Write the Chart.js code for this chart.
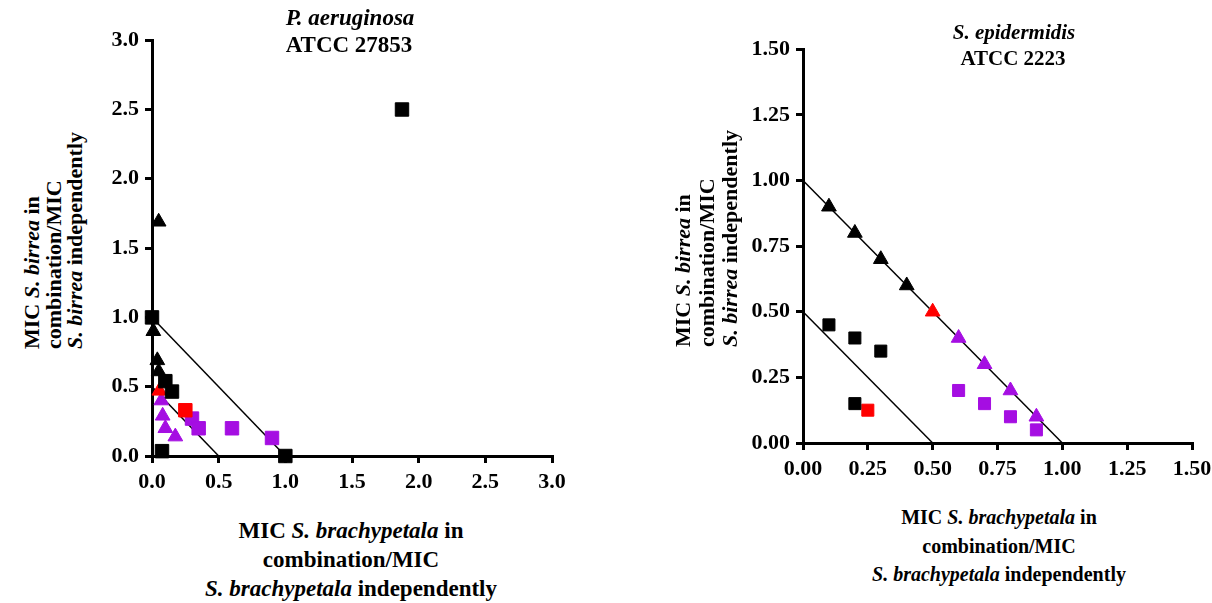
<!DOCTYPE html>
<html>
<head>
<meta charset="utf-8">
<script src="https://cdn.jsdelivr.net/npm/chart.js@4.4.1/dist/chart.umd.min.js"></script>
<style>
  body { margin: 0; background: #fff; }
  #page { position: relative; width: 1212px; height: 603px; overflow: hidden;
          font-family: "Liberation Serif", "Times New Roman", serif; font-weight: bold; color: #000; }
  canvas { position: absolute; }
  .lbl { position: absolute; text-align: center; white-space: nowrap; transform: translate(-50%, -50%); }
  .rot { position: absolute; text-align: left; white-space: nowrap; transform-origin: 0 0; transform: rotate(-90deg); }
</style>
</head>
<body>
<div id="page">
  <canvas id="paChart" width="482" height="475" style="left:90px;top:21px"></canvas>
  <canvas id="seChart" width="492" height="453" style="left:730px;top:30px"></canvas>

  <div class="lbl" style="left:350px;top:18px;font-size:23px"><i>P. aeruginosa</i></div>
  <div class="lbl" style="left:349px;top:45px;font-size:23px">ATCC 27853</div>
  <div class="lbl" style="left:351px;top:559px;font-size:23px;line-height:29px">MIC <i>S. brachypetala</i> in<br>combination/MIC<br><i>S. brachypetala</i> independently</div>
  <div class="rot" style="left:21px;top:349px;font-size:22px;line-height:21.5px">MIC <i>S. birrea</i> in<br>combination/MIC<br><i>S. birrea</i> independently</div>

  <div class="lbl" style="left:1014px;top:32px;font-size:21px"><i>S. epidermidis</i></div>
  <div class="lbl" style="left:1013px;top:58px;font-size:21px">ATCC 2223</div>
  <div class="lbl" style="left:999px;top:546px;font-size:20px;line-height:28.5px">MIC <i>S. brachypetala</i> in<br>combination/MIC<br><i>S. brachypetala</i> independently</div>
  <div class="rot" style="left:671px;top:347px;font-size:22px;line-height:23.5px">MIC <i>S. birrea</i> in<br>combination/MIC<br><i>S. birrea</i> independently</div>
</div>
<script>
// P. aeruginosa ATCC 27853
const paBlackSqX = [0.0, 0.1, 0.15, 0.075, 1.0, 1.875];
const paBlackSqY = [1.0, 0.54, 0.465, 0.035, 0.0, 2.5];
const paBlackTriX = [0.05, 0.01, 0.04, 0.05];
const paBlackTriY = [1.69, 0.9, 0.69, 0.61];
const paRedTriX = [0.055];
const paRedTriY = [0.47];
const paRedSqX = [0.25];
const paRedSqY = [0.33];
const paPurpleTriX = [0.07, 0.08, 0.1, 0.175];
const paPurpleTriY = [0.40, 0.29, 0.2, 0.14];
const paPurpleSqX = [0.3, 0.35, 0.6, 0.9];
const paPurpleSqY = [0.27, 0.2, 0.2, 0.13];
const paTicks = [0, 0.5, 1.0, 1.5, 2.0, 2.5, 3.0];

// S. epidermidis ATCC 2223
const seBlackTriX = [0.1, 0.2, 0.3, 0.4];
const seBlackTriY = [0.9, 0.8, 0.7, 0.6];
const seRedTriX = [0.5];
const seRedTriY = [0.5];
const sePurpleTriX = [0.6, 0.7, 0.8, 0.9];
const sePurpleTriY = [0.4, 0.3, 0.2, 0.1];
const seBlackSqX = [0.1, 0.2, 0.3, 0.2];
const seBlackSqY = [0.45, 0.4, 0.35, 0.15];
const seRedSqX = [0.25];
const seRedSqY = [0.125];
const sePurpleSqX = [0.6, 0.7, 0.8, 0.9];
const sePurpleSqY = [0.2, 0.15, 0.1, 0.05];
const seTicks = [0, 0.25, 0.5, 0.75, 1.0, 1.25, 1.5];

// isobole reference lines (FIC = 1 and FIC = 0.5)
const additiveX = [0, 1];
const additiveY = [1, 0];
const synergyX = [0, 0.5];
const synergyY = [0.5, 0];

const BLACK = '#000000';
const RED = '#ff0000';
const PURPLE = '#a50ee2';

function pts(xs, ys) {
    return xs.map((x, i) => ({ x: x, y: ys[i] }));
}

function marks(xs, ys, color, shape, r) {
    return {
        data: pts(xs, ys),
        pointStyle: shape,
        pointRadius: r,
        pointHoverRadius: r,
        backgroundColor: color,
        borderColor: color,
        borderWidth: 1,
        showLine: false,
        clip: false
    };
}

function isobole(xs, ys) {
    return {
        data: pts(xs, ys),
        showLine: true,
        borderColor: BLACK,
        borderWidth: 1.5,
        pointRadius: 0,
        clip: false
    };
}

function axis(max, ticks, digits, fitProp, fitSize) {
    return {
        type: 'linear',
        min: 0,
        max: max,
        afterBuildTicks: s => { s.ticks = ticks.map(v => ({ value: v })); },
        afterFit: s => { s[fitProp] = fitSize; },
        ticks: {
            callback: v => Number(v).toFixed(digits),
            color: BLACK,
            padding: 6,
            font: { family: 'Liberation Serif', size: 22, weight: 'bold' }
        },
        grid: { drawOnChartArea: false, drawTicks: true, tickLength: 7, color: BLACK, lineWidth: 3 },
        border: { display: true, color: BLACK, width: 3 }
    };
}

function makeChart(id, datasets, max, ticks, digits, yWidth, padRight) {
    new Chart(document.getElementById(id), {
        type: 'scatter',
        data: { datasets: datasets },
        options: {
            responsive: false,
            animation: false,
            devicePixelRatio: 1,
            layout: { padding: { left: 0, right: padRight, top: 14, bottom: 0 } },
            plugins: { legend: { display: false }, tooltip: { enabled: false } },
            scales: {
                x: axis(max, ticks, digits, 'height', 40),
                y: axis(max, ticks, digits, 'width', yWidth)
            }
        }
    });
}

makeChart('paChart', [
    marks(paBlackSqX, paBlackSqY, BLACK, 'rect', 9.5),
    marks(paBlackTriX, paBlackTriY, BLACK, 'triangle', 8.5),
    marks(paRedTriX, paRedTriY, RED, 'triangle', 8.5),
    marks(paRedSqX, paRedSqY, RED, 'rect', 9.5),
    marks(paPurpleTriX, paPurpleTriY, PURPLE, 'triangle', 8.5),
    marks(paPurpleSqX, paPurpleSqY, PURPLE, 'rect', 9.5),
    isobole(additiveX, additiveY),
    isobole(synergyX, synergyY)
], 3, paTicks, 1, 62, 20);

makeChart('seChart', [
    marks(seBlackTriX, seBlackTriY, BLACK, 'triangle', 8.5),
    marks(seRedTriX, seRedTriY, RED, 'triangle', 8.5),
    marks(sePurpleTriX, sePurpleTriY, PURPLE, 'triangle', 8.5),
    marks(seBlackSqX, seBlackSqY, BLACK, 'rect', 8.5),
    marks(seRedSqX, seRedSqY, RED, 'rect', 8.5),
    marks(sePurpleSqX, sePurpleSqY, PURPLE, 'rect', 8.5),
    isobole(additiveX, additiveY),
    isobole(synergyX, synergyY)
], 1.5, seTicks, 2, 73, 30);
</script>
</body>
</html>
